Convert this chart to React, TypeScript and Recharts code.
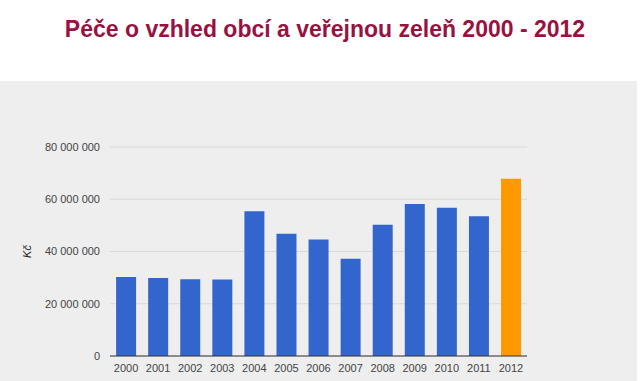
import React from 'react';
import { BarChart, Bar, XAxis, YAxis, CartesianGrid, Cell } from 'recharts';

const years = ['2000', '2001', '2002', '2003', '2004', '2005', '2006', '2007', '2008', '2009', '2010', '2011', '2012'];
const values = [30.2, 29.9, 29.4, 29.3, 55.4, 46.8, 44.6, 37.2, 50.2, 58.2, 56.7, 53.5, 67.8].map((v) => v * 1000000);
const barColors = ['#3366cc', '#3366cc', '#3366cc', '#3366cc', '#3366cc', '#3366cc', '#3366cc', '#3366cc', '#3366cc', '#3366cc', '#3366cc', '#3366cc', '#ff9900'];
const yTicks = [0, 20000000, 40000000, 60000000, 80000000];

const data = years.map((y, i) => ({ year: y, value: values[i] }));

const fmt = (v: number) => (v === 0 ? '0' : String(v).replace(/\B(?=(\d{3})+(?!\d))/g, ' '));

export default function App() {
  return (
    <div style={{ position: 'absolute', left: 0, top: 0, width: 640, height: 381, background: '#ffffff', overflow: 'hidden' }}>
      <div
        style={{
          position: 'absolute',
          left: 0,
          top: 16,
          width: 650,
          textAlign: 'center',
          fontFamily: '"Liberation Sans", Arial, sans-serif',
          fontWeight: 'bold',
          fontSize: 23,
          color: '#99123f',
          whiteSpace: 'nowrap',
        }}
      >
        Péče o vzhled obcí a veřejnou zeleň 2000 - 2012
      </div>
      <div style={{ position: 'absolute', left: 0, top: 81, width: 637, height: 300, background: '#eeeeee' }}>
        <BarChart
          width={637}
          height={300}
          data={data}
          margin={{ top: 66, right: 110, bottom: 0, left: 0 }}
          barCategoryGap="19%"
        >
          <CartesianGrid vertical={false} stroke="#d9d9d9" />
          <XAxis
            dataKey="year"
            height={25}
            tickLine={false}
            axisLine={{ stroke: '#333333' }}
            tick={{ fill: '#444444', fontSize: 11, fontFamily: '"Liberation Sans", Arial, sans-serif' }}
            interval={0}
          />
          <YAxis
            width={110}
            domain={[0, 80000000]}
            ticks={yTicks}
            tickFormatter={fmt}
            axisLine={false}
            tickLine={false}
            tickSize={10}
            tickMargin={0}
            tick={{ fill: '#444444', fontSize: 11, fontFamily: '"Liberation Sans", Arial, sans-serif' }}
            label={{
              value: 'Kč',
              angle: -90,
              position: 'insideLeft',
              offset: 27,
              style: { textAnchor: 'middle', fill: '#222222', fontSize: 11, fontStyle: 'italic', fontFamily: '"Liberation Sans", Arial, sans-serif' },
            }}
          />
          <Bar dataKey="value" isAnimationActive={false}>
            {data.map((d, i) => (
              <Cell key={d.year} fill={barColors[i]} />
            ))}
          </Bar>
        </BarChart>
      </div>
    </div>
  );
}
